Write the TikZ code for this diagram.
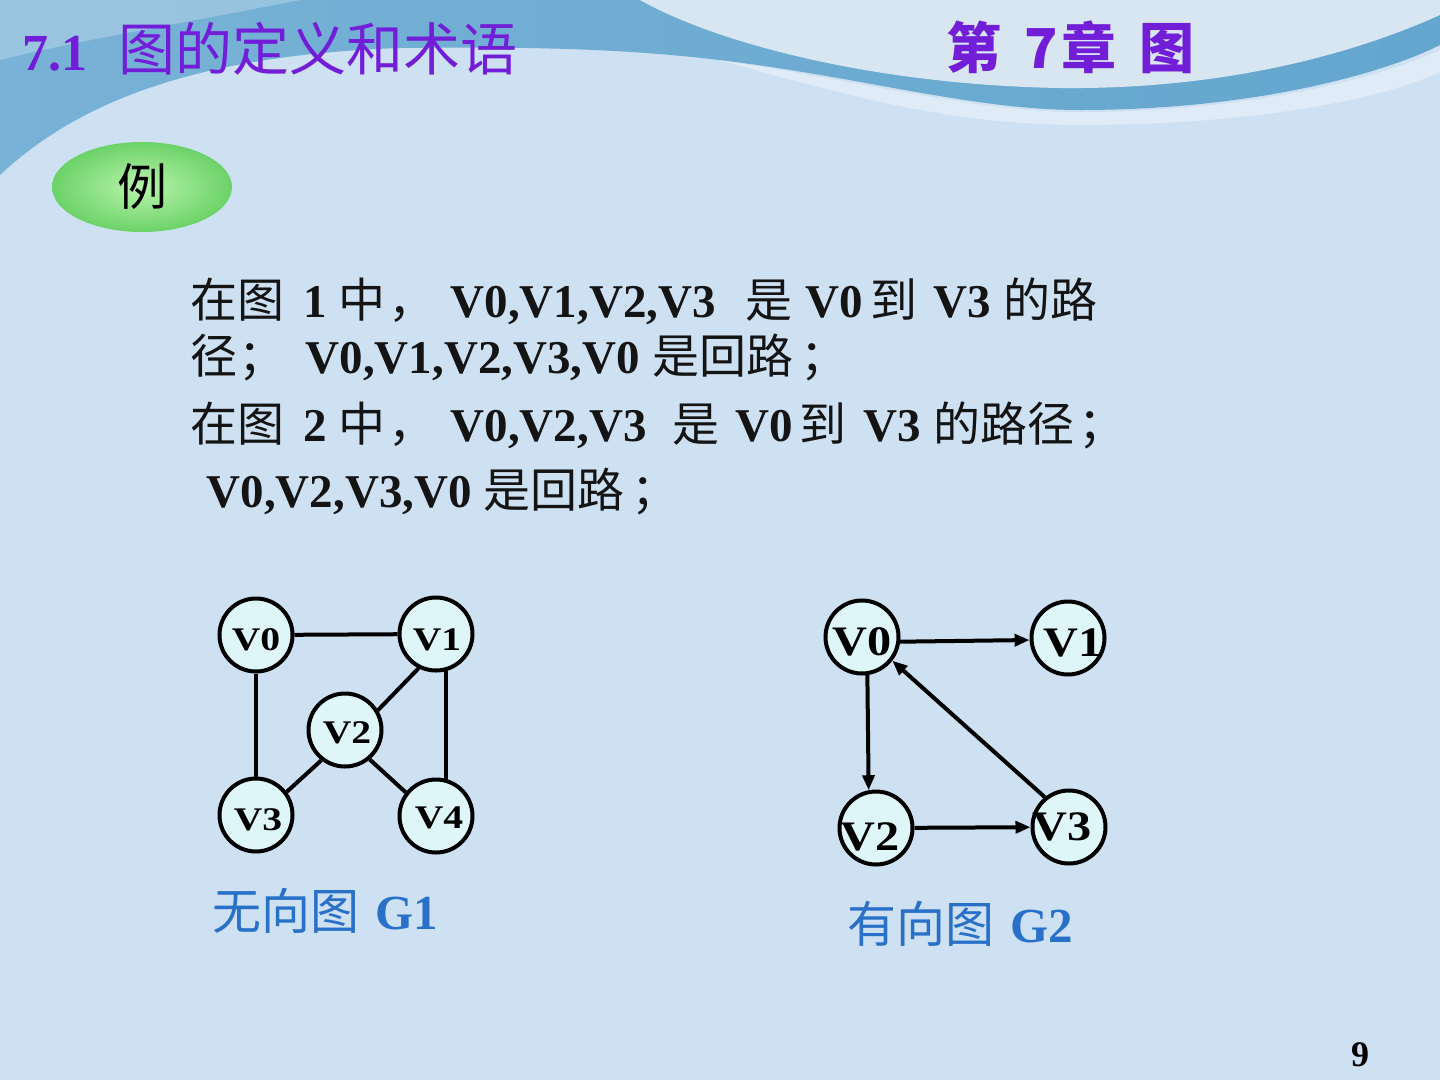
\documentclass[tikz,border=0pt]{standalone}
\usepackage{fontspec}
\usepackage{graphicx}
\setmainfont{Liberation Serif}
\newfontfamily\cjk{Noto Sans CJK SC}
\usetikzlibrary{arrows.meta,shapes.geometric}
\definecolor{bgblue}{RGB}{206,225,242}
\definecolor{topblueL}{RGB}{120,178,214}
\definecolor{topblueR}{RGB}{100,166,206}
\definecolor{swoosh}{RGB}{226,236,244}
\definecolor{titlepurple}{RGB}{114,30,216}
\definecolor{capblue}{RGB}{40,112,200}
\definecolor{nodefill}{RGB}{222,246,247}
\definecolor{ovalin}{RGB}{184,244,172}
\definecolor{ovalout}{RGB}{108,210,104}
\newcommand{\setfs}[1]{\fontsize{#1pt}{#1pt}\selectfont}
\newcommand{\putat}[2]{\rlap{\hspace*{#1pt}#2}}
\tikzset{
  txt/.style={anchor=base west, inner sep=0pt, text=black!92, font=\setfs{47}},
  vtx/.style={circle, draw=black, line width=4pt, fill=nodefill, minimum size=73pt, inner sep=0pt},
  gonelbl/.style={font=\setfs{33}\bfseries, text=black, inner sep=0pt},
  gtwolbl/.style={font=\setfs{42}\bfseries, text=black, inner sep=0pt},
  uedge/.style={line width=4pt, black},
  dedge/.style={line width=4pt, black, -{Triangle[length=15pt,width=12pt]}},
  captext/.style={anchor=base west, inner sep=0pt, text=capblue, font=\setfs{49}}
}
\begin{document}
\begin{tikzpicture}[x=1pt,y=-1pt]
\useasboundingbox (0,0) rectangle (1440,1080);
% background
\fill[bgblue] (0,0) rectangle (1440,1080);
\shade[left color=topblueL, right color=topblueR]
  (0,0) -- (1440,0) -- (1440,45)
  .. controls (1380,75) and (1250,110) .. (1080,110)
  .. controls (980,110) and (880,82) .. (750,64)
  .. controls (650,50) and (550,46) .. (400,48)
  .. controls (200,55) and (80,100) .. (0,175) -- cycle;
\fill[white, opacity=0.35]
  (720,60) .. controls (880,85) and (980,112) .. (1080,112)
  .. controls (1250,112) and (1380,78) .. (1440,50) -- (1440,72)
  .. controls (1380,100) and (1250,125) .. (1080,125)
  .. controls (960,125) and (860,100) .. (720,60) -- cycle;
\fill[swoosh, opacity=0.92]
  (640,0) .. controls (720,45) and (880,85) .. (1060,88)
  .. controls (1250,90) and (1380,42) .. (1440,15) -- (1440,0) -- cycle;
\fill[white, opacity=0.25]
  (0,0) -- (300,0) .. controls (200,20) and (80,40) .. (0,60) -- cycle;
% titles
\node[anchor=base west, inner sep=0pt, text=titlepurple, font=\setfs{52}\bfseries] (sec) at (22,70) {7.1};
\node[anchor=base west, inner sep=0pt, text=titlepurple, font=\setfs{57}\cjk] (sectitle) at (118,70) {图的定义和术语};
\node[anchor=base west, inner sep=0pt, text=titlepurple, font=\setfs{55}\cjk\bfseries] (chap) at (946,68)
  {\putat{0}{第}\putat{78}{7}\putat{115}{章}\putat{193}{图}};
% example oval
\node[ellipse, minimum width=180pt, minimum height=90pt, inner color=ovalin, outer color=ovalout, font=\setfs{50}\cjk, text=black] (ex) at (142,187) {例};
% text block
\node[txt] (l1) at (190,317) {\putat{0}{\cjk 在图}\putat{113}{\bfseries 1}\putat{148}{\cjk 中}\putat{198}{\cjk ，}\putat{260}{\bfseries V0,V1,V2,V3}\putat{555}{\cjk 是}\putat{615}{\bfseries V0}\putat{680}{\cjk 到}\putat{743}{\bfseries V3}\putat{813}{\cjk 的路}};
\node[txt] (l2) at (190,373) {\putat{0}{\cjk 径}\putat{48}{\cjk ；}\putat{115}{\bfseries V0,V1,V2,V3,V0}\putat{462}{\cjk 是回路}\putat{610}{\cjk ；}};
\node[txt] (l3) at (190,441) {\putat{0}{\cjk 在图}\putat{113}{\bfseries 2}\putat{148}{\cjk 中}\putat{198}{\cjk ，}\putat{260}{\bfseries V0,V2,V3}\putat{482}{\cjk 是}\putat{545}{\bfseries V0}\putat{609}{\cjk 到}\putat{673}{\bfseries V3}\putat{743}{\cjk 的路径}\putat{888}{\cjk ；}};
\node[txt] (l4) at (190,507) {\putat{16}{\bfseries V0,V2,V3,V0}\putat{293}{\cjk 是回路}\putat{441}{\cjk ；}};
% graph G1
\node[vtx, label={[gonelbl, yshift=-5pt]center:\scalebox{1.2}[1]{V0}}] (a0) at (256,635) {};
\node[vtx, label={[gonelbl, xshift=1pt, yshift=-6pt]center:\scalebox{1.2}[1]{V1}}] (a1) at (436,634) {};
\node[vtx, label={[gonelbl, xshift=2pt, yshift=-3pt]center:\scalebox{1.2}[1]{V2}}] (a2) at (345,730) {};
\node[vtx, label={[gonelbl, xshift=2pt, yshift=-5pt]center:\scalebox{1.2}[1]{V3}}] (a3) at (256,815) {};
\node[vtx, label={[gonelbl, xshift=3pt, yshift=-2pt]center:\scalebox{1.2}[1]{V4}}] (a4) at (436,816) {};
\draw[uedge] (a0) -- (a1);
\draw[uedge] (a0) -- (a3);
\draw[uedge] (a1.-75) -- (a4.75);
\draw[uedge] (a2.31) -- (a1.243);
\draw[uedge] (a2.232) -- (a3.37);
\draw[uedge] (a2.-50) -- (a4.142);
% graph G2
\node[vtx, label={[gtwolbl, yshift=-5pt]center:\scalebox{1.15}[1]{V0}}] (b0) at (862,637) {};
\node[vtx, label={[gtwolbl, xshift=5pt, yshift=-5pt]center:\scalebox{1.15}[1]{V1}}] (b1) at (1068,638) {};
\node[vtx, label={[gtwolbl, xshift=-6pt, yshift=-9pt]center:\scalebox{1.15}[1]{V2}}] (b2) at (876,828) {};
\node[vtx, label={[gtwolbl, xshift=-7pt]center:\scalebox{1.15}[1]{V3}}] (b3) at (1069,827) {};
\draw[dedge] (b0.-7) -- (b1.183);
\draw[dedge] (b0.-82) -- (b2.101);
\draw[dedge] (b2) -- (b3);
\draw[dedge] (b3.129) -- (b0.-38);
% captions
\node[captext] (c1) at (212,929) {\putat{0}{\cjk 无向图}\putat{163}{\bfseries G1}};
\node[captext] (c2) at (847,942) {\putat{0}{\cjk 有向图}\putat{163}{\bfseries G2}};
% page number
\node[anchor=base west, inner sep=0pt, font=\setfs{36}\bfseries, text=black] (pg) at (1351,1066) {9};
\end{tikzpicture}
\end{document}
